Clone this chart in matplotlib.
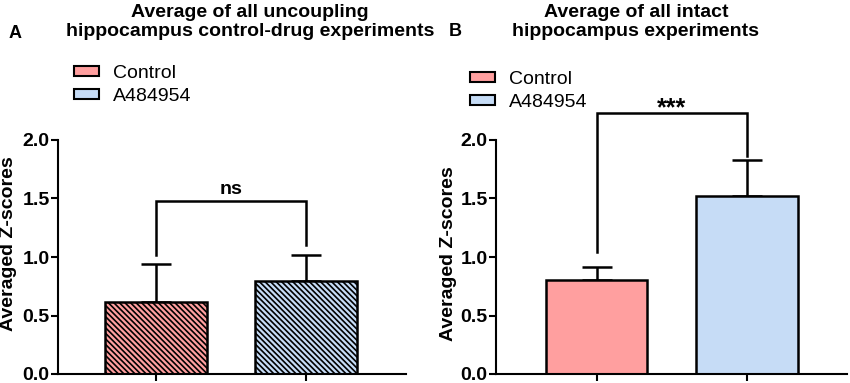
import matplotlib
matplotlib.use("Agg")
import matplotlib.pyplot as plt
from matplotlib.patches import Patch

plt.rcParams['font.family'] = ['Liberation Sans', 'DejaVu Sans']
plt.rcParams['hatch.linewidth'] = 1.2

grupos = ["Control", "A484954"]
cores = ["#FF9F9F", "#C6DCF6"]

# painel A: desacoplamento (controle-droga)
mediaA = [0.613, 0.795]
erroA = [0.325, 0.220]
# painel B: hipocampo intacto
mediaB = [0.803, 1.524]
erroB = [0.114, 0.302]

tituloA = "Average of all uncoupling\nhippocampus control-drug experiments"
tituloB = "Average of all intact\nhippocampus experiments"
rotuloY = "Averaged Z-scores"
yticks = [0.0, 0.5, 1.0, 1.5, 2.0]

fig = plt.figure(figsize=(8.5, 3.83), dpi=100)
W, H = 850, 383

def eixo(x0, x1, y0, y1):
    return fig.add_axes([x0 / W, 1 - y1 / H, (x1 - x0) / W, (y1 - y0) / H])

axA = eixo(58, 406, 140, 374)
axB = eixo(496, 847, 140, 374)

def painel(ax, media, erro, hachura, xlim, ylab_x, ylab_y):
    x = [0, 1]
    ax.bar(x, media, width=0.675, color=cores, edgecolor='black', linewidth=1.8,
           hatch=hachura, zorder=2)
    for xi, m, e in zip(x, media, erro):
        ax.errorbar(xi, m, yerr=[[0], [e]], fmt='none', ecolor='black',
                    elinewidth=1.8, capsize=11, capthick=1.8, zorder=1, clip_on=False)
    ax.set_xlim(*xlim)
    ax.set_ylim(0, 2.0)
    ax.set_yticks(yticks)
    ax.set_yticklabels([f"{v:.1f}" for v in yticks], fontsize=14, fontweight='bold')
    ax.set_xticks(x)
    ax.set_xticklabels([])
    for s in ['top', 'right']:
        ax.spines[s].set_visible(False)
    for s in ['left', 'bottom']:
        ax.spines[s].set_linewidth(1.5)
    ax.tick_params(axis='both', direction='out', length=5, width=1.5, pad=1)
    ax.set_ylabel(rotuloY, fontsize=14, fontweight='bold')
    ax.yaxis.set_label_coords(ylab_x, ylab_y)

def colchete(ax, y, pe_esq, pe_dir, texto, tam, dy):
    ax.plot([0, 0, 1, 1], [pe_esq, y, y, pe_dir], color='black', lw=1.8,
            clip_on=False, solid_joinstyle='miter')
    ax.text(0.5, y + dy, texto, ha='center', va='bottom', fontsize=tam,
            fontweight='bold')

painel(axA, mediaA, erroA, '\\\\\\\\\\\\', (-0.653, 1.667), -0.118, 0.556)
painel(axB, mediaB, erroB, None, (-0.668, 1.664), -0.111, 0.515)

colchete(axA, 1.476, 1.017, 1.10, "ns", 14, 0.03)
colchete(axB, 2.23, 1.045, 1.86, "***", 18, -0.06)

fig.text(250 / W, 1 - 22 / H, tituloA, ha='center', va='center', fontsize=14,
         fontweight='bold', multialignment='center', linespacing=1.15)
fig.text(636 / W, 1 - 22 / H, tituloB, ha='center', va='center', fontsize=14,
         fontweight='bold', multialignment='center', linespacing=1.15)
fig.text(15 / W, 1 - 33 / H, "A", ha='center', va='center', fontsize=13, fontweight='bold')
fig.text(455 / W, 1 - 31 / H, "B", ha='center', va='center', fontsize=13, fontweight='bold')

alcas = [Patch(facecolor=c, edgecolor='black', linewidth=1.5) for c in cores]
for x0, y0 in [(74, 65), (470, 71)]:
    fig.legend(alcas, grupos, loc='upper left', bbox_to_anchor=(x0 / W, 1 - y0 / H),
               frameon=False, fontsize=14, borderpad=0, borderaxespad=0,
               handlelength=1.3, handleheight=0.45, handletextpad=0.7,
               labelspacing=0.3)

fig.savefig("out.png", dpi=100)
